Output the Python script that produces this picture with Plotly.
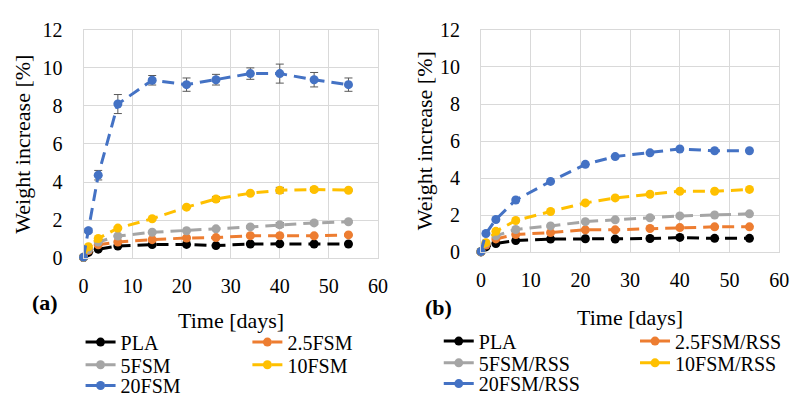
import plotly.graph_objects as go

# Immersion time points (days)
days = [0, 1, 3, 7, 14, 21, 27, 34, 40, 47, 54]

# (a) PLA and PLA/FSM composites: weight increase [%]
names_a = ["PLA", "2.5FSM", "5FSM", "10FSM", "20FSM"]
pla_a = [0.03, 0.30, 0.47, 0.64, 0.71, 0.72, 0.66, 0.74, 0.75, 0.74, 0.74]
fsm25_a = [0.04, 0.40, 0.70, 0.85, 0.97, 1.06, 1.08, 1.18, 1.18, 1.17, 1.22]
fsm5_a = [0.04, 0.45, 0.85, 1.16, 1.36, 1.44, 1.54, 1.64, 1.75, 1.85, 1.91]
fsm10_a = [0.05, 0.60, 1.03, 1.58, 2.07, 2.68, 3.11, 3.41, 3.57, 3.61, 3.57]
fsm20_a = [0.05, 1.44, 4.36, 8.10, 9.35, 9.12, 9.38, 9.70, 9.70, 9.38, 9.12]

# (a) standard deviations
err_pla_a = [0, 0.02, 0.02, 0.02, 0.02, 0.02, 0.03, 0.02, 0.03, 0.02, 0.02]
err_fsm25_a = [0, 0.03, 0.03, 0.03, 0.03, 0.03, 0.03, 0.03, 0.04, 0.03, 0.03]
err_fsm5_a = [0, 0.03, 0.03, 0.03, 0.03, 0.03, 0.05, 0.05, 0.12, 0.08, 0.05]
err_fsm10_a = [0, 0.05, 0.05, 0.05, 0.05, 0.05, 0.12, 0.05, 0.15, 0.10, 0.05]
err_fsm20_a = [0, 0.10, 0.25, 0.50, 0.25, 0.35, 0.28, 0.30, 0.50, 0.38, 0.35]

# (b) PLA and PLA/FSM/RSS composites: weight increase [%]
names_b = ["PLA", "2.5FSM/RSS", "5FSM/RSS", "10FSM/RSS", "20FSM/RSS"]
pla_b = [0.03, 0.30, 0.48, 0.64, 0.72, 0.74, 0.72, 0.75, 0.81, 0.76, 0.76]
fsm25_b = [0.04, 0.40, 0.73, 0.97, 1.07, 1.22, 1.22, 1.29, 1.34, 1.38, 1.38]
fsm5_b = [0.04, 0.50, 0.90, 1.24, 1.43, 1.66, 1.76, 1.87, 1.97, 2.02, 2.08]
fsm10_b = [0.05, 0.53, 1.14, 1.72, 2.21, 2.67, 2.94, 3.14, 3.30, 3.30, 3.40]
fsm20_b = [0.05, 1.02, 1.78, 2.83, 3.83, 4.75, 5.17, 5.37, 5.58, 5.48, 5.48]

x_ticks = [0, 10, 20, 30, 40, 50, 60]
y_ticks = [0, 2, 4, 6, 8, 10, 12]

colors = ["#000000", "#ED7D31", "#A5A5A5", "#FFC000", "#4472C4"]

W, H = 804, 405
FONT = "Liberation Serif"


def px(x):
    return x / W


def py(y):
    return 1 - y / H


# legend entry anchors in pixels (text start x, row centre y)
TEXT_OFFSET = 40
LEG_DY = 8
legend_pos_a = [(117, 343), (287, 343), (117, 367), (287, 367), (117, 389)]
legend_pos_b = [(482, 342), (682, 342), (482, 365), (682, 365), (482, 387)]

fig = go.Figure()
layout_legends = {}
legend_style = dict(orientation="h", font=dict(family=FONT, size=20, color="#000000"),
                    bgcolor="rgba(0,0,0,0)", xanchor="left", yanchor="middle",
                    itemwidth=30)

series_a = [pla_a, fsm25_a, fsm5_a, fsm10_a, fsm20_a]
errors_a = [err_pla_a, err_fsm25_a, err_fsm5_a, err_fsm10_a, err_fsm20_a]
for i, (name, ys, err, col) in enumerate(zip(names_a, series_a, errors_a, colors)):
    lg = "legend" if i == 0 else f"legend{i + 1}"
    tx, ty = legend_pos_a[i]
    layout_legends[lg] = dict(x=px(tx - TEXT_OFFSET), y=py(ty + LEG_DY), **legend_style)
    fig.add_trace(go.Scatter(
        x=days, y=ys, name=name, mode="lines+markers",
        line=dict(color=col, width=3, dash="12px,7px"),
        marker=dict(color=col, size=9),
        error_y=dict(type="data", array=err, visible=True,
                     color="#595959", thickness=1, width=4),
        cliponaxis=False, legend=lg, xaxis="x", yaxis="y",
    ))

series_b = [pla_b, fsm25_b, fsm5_b, fsm10_b, fsm20_b]
for i, (name, ys, col) in enumerate(zip(names_b, series_b, colors)):
    lg = f"legend{i + 6}"
    tx, ty = legend_pos_b[i]
    layout_legends[lg] = dict(x=px(tx - TEXT_OFFSET), y=py(ty + LEG_DY), **legend_style)
    fig.add_trace(go.Scatter(
        x=days, y=ys, name=name, mode="lines+markers",
        line=dict(color=col, width=3, dash="12px,7px"),
        marker=dict(color=col, size=9),
        cliponaxis=False, legend=lg, xaxis="x2", yaxis="y2",
    ))

grid = "#d9d9d9"
tickfont = dict(family=FONT, size=20, color="#000000")
common_x = dict(range=[0, 60], tickvals=x_ticks, ticktext=[str(v) for v in x_ticks],
                showgrid=True, gridcolor=grid, gridwidth=1, zeroline=False,
                showline=True, mirror=True, linecolor=grid, linewidth=1,
                ticks="", tickfont=tickfont, ticklabelstandoff=10, fixedrange=True)
common_y = dict(range=[0, 12], tickvals=y_ticks, ticktext=[str(v) for v in y_ticks],
                showgrid=True, gridcolor=grid, gridwidth=1, zeroline=False,
                showline=True, mirror=True, linecolor=grid, linewidth=1,
                ticks="", tickfont=tickfont, ticklabelstandoff=16, fixedrange=True)

fig.update_layout(
    width=W, height=H,
    margin=dict(l=0, r=0, t=0, b=0),
    paper_bgcolor="white", plot_bgcolor="white",
    font=dict(family=FONT, color="#000000"),
    xaxis=dict(domain=[px(80), px(380)], anchor="y", **common_x),
    yaxis=dict(domain=[py(262), py(20)], anchor="x", **common_y),
    xaxis2=dict(domain=[px(485), px(789)], anchor="y2", **common_x),
    yaxis2=dict(domain=[py(256), py(20)], anchor="x2", **common_y),
    showlegend=True,
    **layout_legends,
)

title_font = dict(family=FONT, size=22, color="#000000")
annotations = [
    dict(text="Weight increase [%]", x=px(18), y=py(141), textangle=-90,
         font=title_font),
    dict(text="Weight increase [%]", x=px(427), y=py(138), textangle=-90,
         font=title_font),
    dict(text="Time [days]", x=px(230), y=py(328), font=title_font),
    dict(text="Time [days]", x=px(637), y=py(325), font=title_font),
    dict(text="<b>(a)</b>", x=px(41), y=py(309), font=title_font),
    dict(text="<b>(b)</b>", x=px(442), y=py(314), font=title_font),
]
for a in annotations:
    a.update(xref="paper", yref="paper", showarrow=False,
             xanchor="center", yanchor="middle")
fig.update_layout(annotations=annotations)

fig.write_html("out.html")
